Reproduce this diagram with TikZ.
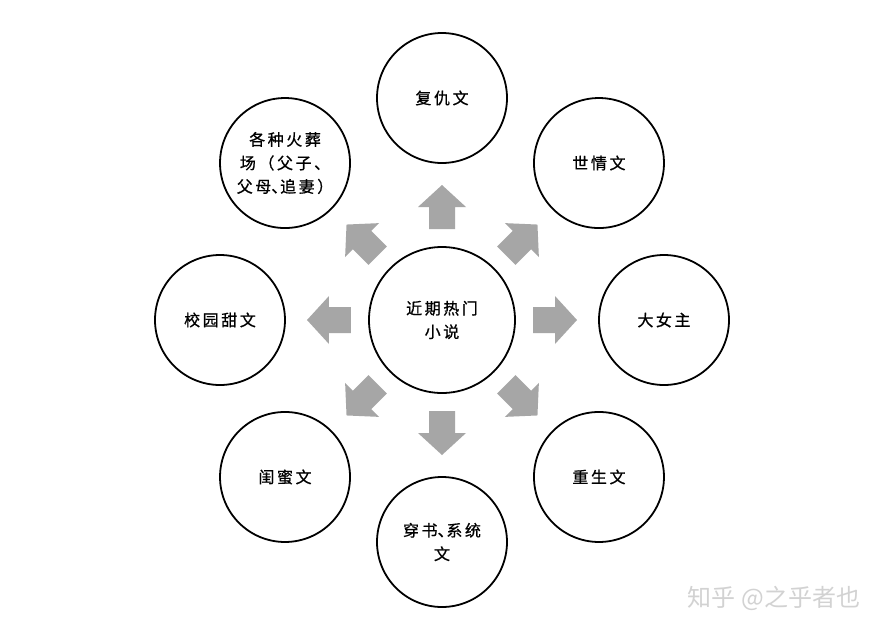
\documentclass[tikz,border=0pt]{standalone}
\usepackage{fontspec}
\newfontfamily\cjk[LetterSpace=16,FakeBold=0.8]{Noto Sans CJK SC}
\newfontfamily\cjkw{Noto Sans CJK SC}
\newcommand\narrowdun{\makebox[0.55em][l]{、}}
\definecolor{arrowgray}{HTML}{A6A6A6}
\definecolor{wmgray}{HTML}{D2D2D2}
\begin{document}
\begin{tikzpicture}[x=1pt,y=1pt,
  topic/.style={circle,draw=black,line width=1.8pt,minimum size=130pt,inner sep=0pt,
    align=center,font=\cjk\fontsize{16pt}{23.5pt}\selectfont},
  hub/.style={topic,minimum size=146pt},
  blockarrow/.pic={\fill[arrowgray] (-22,-13) -- (0,-13) -- (0,-24) -- (22,0) -- (0,24) -- (0,13) -- (-22,13) -- cycle;}
]
\useasboundingbox (-442,-313) rectangle (452,320);
\fill[white] (-442,-313) rectangle (452,320);
\node[hub] (c) at (0,0) {近期热门\\小说};
\node[topic] (n1) at (90:222) {复仇文};
\node[topic] (n2) at (45:222) {世情文};
\node[topic] (n3) at (0:222) {大女主};
\node[topic] (n4) at (-45:222) {重生文};
\node[topic] (n5) at (-90:222) {穿书\narrowdun 系统\\文};
\node[topic] (n6) at (-135:222) {闺蜜文};
\node[topic] (n7) at (180:222) {校园甜文};
\node[topic] (n8) at (135:222) {各种火葬\\场（父子、\\父母\narrowdun 追妻）};
\foreach \a in {90,45,0,-45,-90,-135,180,135}
  \pic[rotate=\a] at (\a:113) {blockarrow};
\node[font=\cjkw\fontsize{24pt}{24pt}\selectfont,text=wmgray,anchor=center] (wm) at (332,-278) {知乎 @之乎者也};
\end{tikzpicture}
\end{document}
